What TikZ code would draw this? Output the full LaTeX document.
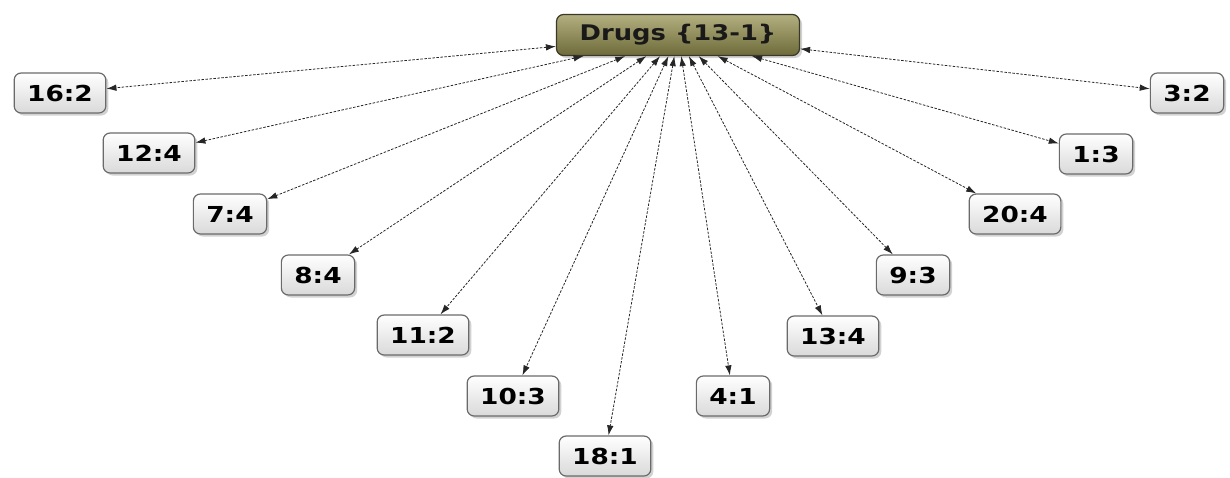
\documentclass[tikz,border=0pt]{standalone}
\usepackage{fontspec}
\usepackage{tikz}
\usetikzlibrary{arrows.meta, shadows}
\newfontfamily\boxfont{DejaVu Sans}[FakeStretch=1.2]
\definecolor{drugtop}{HTML}{B3AF80}
\definecolor{drugbottom}{HTML}{6E6B3A}
\definecolor{drugline}{HTML}{3A3826}
\definecolor{leafbottom}{HTML}{D9D9D9}
\definecolor{leafline}{HTML}{6A6A6A}

\begin{document}
\begin{tikzpicture}[
    x=1pt, y=-1pt,
    hub/.style={rectangle, draw=drugline, line width=1.2pt, top color=drugtop,
               bottom color=drugbottom, minimum width=243pt, minimum height=41pt,
               font=\boxfont\bfseries\fontsize{21.5}{24}\selectfont, text=black!90,
               rounded corners=7pt, drop shadow={shadow xshift=2.5pt, shadow yshift=-2.5pt, fill=gray!70}},
    leaf/.style={rectangle, draw=leafline, line width=1.2pt, top color=white,
                bottom color=leafbottom, inner xsep=13pt, minimum height=40pt,
                font=\boxfont\bfseries\fontsize{22}{24}\selectfont,
                rounded corners=7pt, drop shadow={shadow xshift=2.5pt, shadow yshift=-2.5pt, fill=gray!70}},
    link/.style={{Latex[length=10pt,width=6.5pt]}-{Latex[length=10pt,width=6.5pt]},
                line width=0.8pt, dash pattern=on 2.5pt off 1.5pt, black!85}
]
\useasboundingbox (0,0) rectangle (1230,477);

% Hub
\node[hub] at (678,35) (drugs) {Drugs \{13-1\}};

% Left branch
\node[leaf] at (60,93) (leaf-16-2) {16:2};
\node[leaf] at (149,153) (leaf-12-4) {12:4};
\node[leaf] at (230,214) (leaf-7-4) {7:4};
\node[leaf] at (318,275) (leaf-8-4) {8:4};
\node[leaf] at (423,335) (leaf-11-2) {11:2};
\node[leaf] at (513,396) (leaf-10-3) {10:3};
\node[leaf] at (605,456) (leaf-18-1) {18:1};

% Right branch
\node[leaf] at (733,396) (leaf-4-1) {4:1};
\node[leaf] at (833,336) (leaf-13-4) {13:4};
\node[leaf] at (913,275) (leaf-9-3) {9:3};
\node[leaf] at (1015,214) (leaf-20-4) {20:4};
\node[leaf] at (1096,154) (leaf-1-3) {1:3};
\node[leaf] at (1187,93) (leaf-3-2) {3:2};

% Links
\draw[link] (drugs) -- (leaf-16-2);
\draw[link] (drugs) -- (leaf-12-4);
\draw[link] (drugs) -- (leaf-7-4);
\draw[link] (drugs) -- (leaf-8-4);
\draw[link] (drugs) -- (leaf-11-2);
\draw[link] (drugs) -- (leaf-10-3);
\draw[link] (drugs) -- (leaf-18-1);
\draw[link] (drugs) -- (leaf-4-1);
\draw[link] (drugs) -- (leaf-13-4);
\draw[link] (drugs) -- (leaf-9-3);
\draw[link] (drugs) -- (leaf-20-4);
\draw[link] (drugs) -- (leaf-1-3);
\draw[link] (drugs) -- (leaf-3-2);

\end{tikzpicture}
\end{document}
